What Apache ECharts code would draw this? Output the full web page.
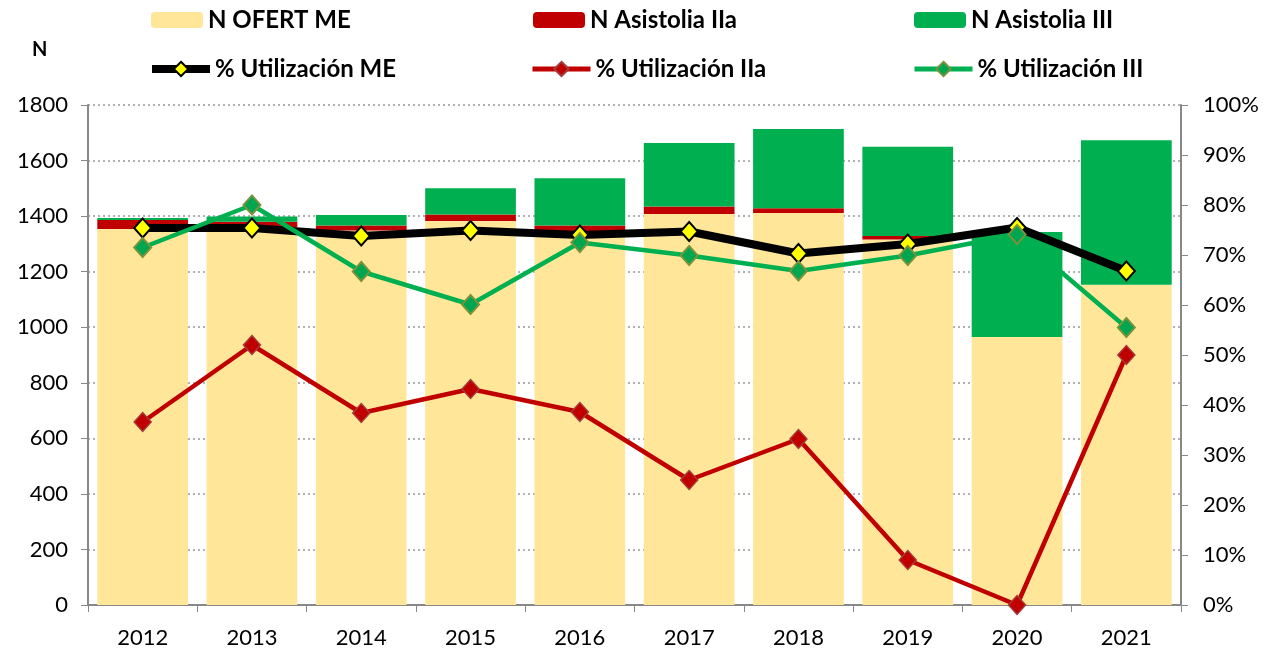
<!DOCTYPE html>
<html>
<head>
<meta charset="utf-8">
<script src="https://cdn.jsdelivr.net/npm/echarts@6/dist/echarts.min.js"></script>
<style>
  html, body { margin: 0; padding: 0; background: #fff; }
  #chart { width: 1282px; height: 657px; }
</style>
</head>
<body>
<div id="chart"></div>
<script>
// categorías (años)
const years = ['2012', '2013', '2014', '2015', '2016', '2017', '2018', '2019', '2020', '2021'];

// barras apiladas (N)
const nOfertME = [1354, 1361, 1348, 1382, 1346, 1408, 1411, 1316, 965, 1153];
const nAsistoliaIIa = [32, 19, 18, 24, 20, 27, 17, 12, 0, 0];
const nAsistoliaIII = [7, 19, 38, 94, 170, 228, 286, 322, 378, 520];

// líneas (% utilización, eje derecho)
const pctME = [0.754, 0.754, 0.738, 0.749, 0.740, 0.747, 0.703, 0.722, 0.755, 0.668];
const pctIIa = [0.366, 0.520, 0.384, 0.432, 0.386, 0.250, 0.332, 0.090, 0.000, 0.500];
const pctIII = [0.715, 0.800, 0.667, 0.601, 0.725, 0.699, 0.668, 0.699, 0.741, 0.555];

const FONT = 'Lato';
const legendText = { fontFamily: FONT, fontSize: 24, fontWeight: 'bold', color: '#000' };

const myChart = echarts.init(document.getElementById('chart'));

// una leyenda por elemento, para colocarlas como en el original
const legendItem = (name, left, top, lineWidth) => ({
    data: [name],
    left: left,
    top: top,
    itemWidth: lineWidth ? 58 : 52,
    itemHeight: lineWidth ? 18 : 16,
    itemGap: 4,
    padding: 0,
    textStyle: legendText,
    lineStyle: lineWidth ? { width: lineWidth } : undefined,
    selectedMode: false,
});

const option = {
    animation: false,
    title: {
        text: 'N',
        left: 32,
        top: 40,
        padding: 0,
        textStyle: { fontFamily: FONT, fontSize: 20, fontWeight: 'bold', color: '#000' },
    },
    legend: [
        legendItem('N OFERT ME', 151, 8, 0),
        legendItem('N Asistolia IIa', 533, 8, 0),
        legendItem('N Asistolia III', 914, 8, 0),
        legendItem('% Utilización ME', 148, 57, 8),
        legendItem('% Utilización IIa', 530, 57, 5),
        legendItem('% Utilización III', 912, 57, 5),
    ],
    grid: {
        left: 88,
        right: 101,
        top: 105,
        bottom: 52,
    },
    xAxis: {
        type: 'category',
        data: years,
        axisLine: { lineStyle: { color: '#888', width: 2 } },
        axisTick: { show: true, length: 7, interval: 0, lineStyle: { color: '#888' } },
        axisLabel: { fontFamily: FONT, fontSize: 22, color: '#000', margin: 22 },
    },
    yAxis: [
        {
            type: 'value',
            min: 0,
            max: 1800,
            interval: 200,
            axisLine: { show: true, lineStyle: { color: '#888', width: 2 } },
            axisTick: { show: true, length: 7, lineStyle: { color: '#888' } },
            axisLabel: {
                fontFamily: FONT, fontSize: 22, color: '#000', margin: 20,
                formatter: (v) => String(v),
            },
            splitLine: { show: true, lineStyle: { color: '#999', type: [2, 3], width: 1.5 } },
        },
        {
            type: 'value',
            min: 0,
            max: 1,
            interval: 0.1,
            axisLine: { show: true, lineStyle: { color: '#888', width: 2 } },
            axisTick: { show: true, length: 7, lineStyle: { color: '#888' } },
            axisLabel: {
                fontFamily: FONT, fontSize: 22, color: '#000', margin: 22,
                formatter: (v) => Math.round(v * 100) + '%',
            },
            splitLine: { show: false },
        },
    ],
    series: [
        {
            name: 'N OFERT ME',
            type: 'bar',
            stack: 'n',
            data: nOfertME,
            barCategoryGap: '17%',
            itemStyle: { color: '#FFE699' },
        },
        {
            name: 'N Asistolia IIa',
            type: 'bar',
            stack: 'n',
            data: nAsistoliaIIa,
            itemStyle: { color: '#C00000' },
        },
        {
            name: 'N Asistolia III',
            type: 'bar',
            stack: 'n',
            data: nAsistoliaIII,
            itemStyle: { color: '#00B050' },
        },
        {
            name: '% Utilización ME',
            type: 'line',
            yAxisIndex: 1,
            data: pctME,
            symbol: 'diamond',
            symbolSize: [17, 19],
            lineStyle: { color: '#000', width: 8 },
            itemStyle: { color: '#FFFF00', borderColor: '#000', borderWidth: 2 },
            z: 3,
        },
        {
            name: '% Utilización IIa',
            type: 'line',
            yAxisIndex: 1,
            data: pctIIa,
            symbol: 'diamond',
            symbolSize: [17, 19],
            lineStyle: { color: '#C00000', width: 4.5 },
            itemStyle: { color: '#C00000', borderColor: '#A33B3B', borderWidth: 1.5 },
            z: 4,
        },
        {
            name: '% Utilización III',
            type: 'line',
            yAxisIndex: 1,
            data: pctIII,
            symbol: 'diamond',
            symbolSize: [17, 19],
            lineStyle: { color: '#00B050', width: 4.5 },
            itemStyle: { color: '#00A550', borderColor: '#77933C', borderWidth: 2 },
            z: 5,
        },
    ],
};

myChart.setOption(option);
</script>
</body>
</html>
